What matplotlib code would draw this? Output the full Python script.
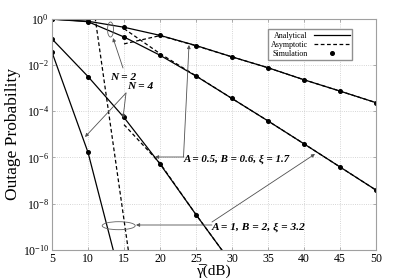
import numpy as np
import matplotlib
matplotlib.use("Agg")
import matplotlib.pyplot as plt
from matplotlib.lines import Line2D
from matplotlib.patches import Ellipse

plt.rcParams['font.family'] = ['Liberation Serif', 'DejaVu Serif']
plt.rcParams['mathtext.fontset'] = 'stix'

# average SNR grid (dB)
snr = [5, 10, 15, 20, 25, 30, 35, 40, 45, 50]

# log10(outage probability)
n2_a05 = [-0.02, -0.11, -0.37, -0.72, -1.16, -1.65, -2.12, -2.64, -3.13, -3.63]
n2_a1 = [-0.02, -0.13, -0.79, -1.58, -2.48, -3.45, -4.42, -5.41, -6.41, -7.41]
n4_a05_snr = [5, 10, 15, 20, 25, 30]
n4_a05 = [-0.875, -2.5, -4.27, -6.28, -8.47, -10.6]
n4_a1_snr = [5, 10, 15]
n4_a1 = [-1.45, -5.78, -11.8]

# asymptotic curves
asy_snr = [15, 20, 25, 30, 35, 40, 45, 50]
asy_n2_a05 = [-1.09, -0.73, -1.17, -1.65, -2.12, -2.64, -3.13, -3.63]
asy_n2_a1 = [-0.43, -1.51, -2.47, -3.45, -4.42, -5.41, -6.41, -7.41]
asy_n4_a05_snr = [15, 20, 25, 30]
asy_n4_a05 = [-4.58, -6.25, -8.47, -10.6]
asy_n4_a1_snr = [10, 15, 20]
asy_n4_a1 = [2.2, -8.7, -19.6]

# simulation points
sim_n2_a05 = n2_a05
sim_n2_a1 = n2_a1
sim_n4_a05_snr = [5, 10, 15, 20, 25]
sim_n4_a05 = [-0.875, -2.5, -4.27, -6.28, -8.47]
sim_n4_a1_snr = [5, 10]
sim_n4_a1 = [-1.45, -5.78]

W, H = 413, 279
fig = plt.figure(figsize=(W / 100, H / 100), dpi=100)
ax = fig.add_axes([52 / W, 1 - 250 / H, 324 / W, 231.3 / H])


def p(v):
    return 10.0 ** np.array(v)


def fp(x, y):
    # figure pixel (top-left origin) -> figure fraction
    return (x / W, 1 - y / H)


lw = 0.9
dash = (0, (3, 2))
ms = 2.6

ax.plot(snr, p(n2_a05), 'k-', lw=lw)
ax.plot(snr, p(n2_a1), 'k-', lw=lw)
ax.plot(n4_a05_snr, p(n4_a05), 'k-', lw=lw)
ax.plot(n4_a1_snr, p(n4_a1), 'k-', lw=lw)

ax.plot(asy_snr, p(asy_n2_a05), 'k', ls=dash, lw=lw)
ax.plot(asy_snr, p(asy_n2_a1), 'k', ls=dash, lw=lw)
ax.plot(asy_n4_a05_snr, p(asy_n4_a05), 'k', ls=dash, lw=lw)
ax.plot(asy_n4_a1_snr, p(asy_n4_a1), 'k', ls=dash, lw=lw)

ax.plot(snr, p(sim_n2_a05), 'ko', ms=ms, ls='none')
ax.plot(snr, p(sim_n2_a1), 'ko', ms=ms, ls='none')
ax.plot(sim_n4_a05_snr, p(sim_n4_a05), 'ko', ms=ms, ls='none')
ax.plot(sim_n4_a1_snr, p(sim_n4_a1), 'ko', ms=ms, ls='none')

ax.set_yscale('log')
ax.set_xlim(5, 50)
ax.set_ylim(1e-10, 1)
ax.set_xticks(range(5, 51, 5))
ax.set_yticks([1e0, 1e-2, 1e-4, 1e-6, 1e-8, 1e-10])
ax.minorticks_off()
ax.grid(True, color='#c8c8c8', ls=':', lw=0.6)
for s in ax.spines.values():
    s.set_color('#a0a0a0')
    s.set_linewidth(0.8)
ax.tick_params(direction='in', length=2.5, width=0.6, color='#a0a0a0',
               top=True, right=True, labelsize=8.5, pad=2)

ax.set_ylabel('Outage Probability', fontsize=12.5, labelpad=1)
ax.set_xlabel('\u03b3\u0305(dB)', fontsize=11, labelpad=0)

handles = [Line2D([], [], color='k', lw=lw),
           Line2D([], [], color='k', lw=lw, ls=dash),
           Line2D([], [], color='k', marker='o', ms=ms, ls='none')]
ax.legend(handles, ['Analytical', 'Asymptotic', 'Simulation'],
          loc='upper left', bbox_to_anchor=(0.667, 0.955), fontsize=5.8,
          markerfirst=False, fancybox=False, framealpha=1,
          edgecolor='#909090', borderpad=0.3, labelspacing=0.15,
          handlelength=4.4, handletextpad=0.8, borderaxespad=0)

# annotations
arrow = dict(arrowstyle='-|>', color='#505050', lw=0.6,
             mutation_scale=5, shrinkA=0, shrinkB=0)
lab = dict(fontweight='bold', fontstyle='italic', va='center')

ax.annotate('', xy=fp(113, 38), xytext=fp(123, 68), xycoords='figure fraction',
            textcoords='figure fraction', arrowprops=arrow)
fig.text(*fp(110, 77), 'N = 2', fontsize=8.2, **lab)

ax.annotate('', xy=fp(123, 118), xytext=fp(126, 93), xycoords='figure fraction',
            textcoords='figure fraction', arrowprops=arrow)
ax.annotate('', xy=fp(85, 137), xytext=fp(126, 93), xycoords='figure fraction',
            textcoords='figure fraction', arrowprops=arrow)
fig.text(*fp(127, 87), 'N = 4', fontsize=8.2, **lab)

ax.annotate('', xy=fp(155, 157), xytext=fp(184, 157), xycoords='figure fraction',
            textcoords='figure fraction', arrowprops=arrow)
ax.annotate('', xy=fp(189, 45), xytext=fp(183.5, 157), xycoords='figure fraction',
            textcoords='figure fraction', arrowprops=arrow)
fig.text(*fp(184, 159), 'A = 0.5, B = 0.6, \u03be = 1.7', fontsize=7.8, **lab)

ax.annotate('', xy=fp(136, 225), xytext=fp(212, 225), xycoords='figure fraction',
            textcoords='figure fraction', arrowprops=arrow)
ax.annotate('', xy=fp(315, 154), xytext=fp(212, 222), xycoords='figure fraction',
            textcoords='figure fraction', arrowprops=arrow)
fig.text(*fp(212, 227), 'A = 1, B = 2, \u03be = 3.2', fontsize=8.2, **lab)

e1 = Ellipse(fp(110.5, 29.5), 6 / W, 15 / H, transform=fig.transFigure,
             fill=False, ec='#606060', lw=0.6)
e2 = Ellipse(fp(118.7, 225.7), 33 / W, 8 / H, transform=fig.transFigure,
             fill=False, ec='#606060', lw=0.6)
fig.add_artist(e1)
fig.add_artist(e2)

fig.savefig('out.png', dpi=100)
